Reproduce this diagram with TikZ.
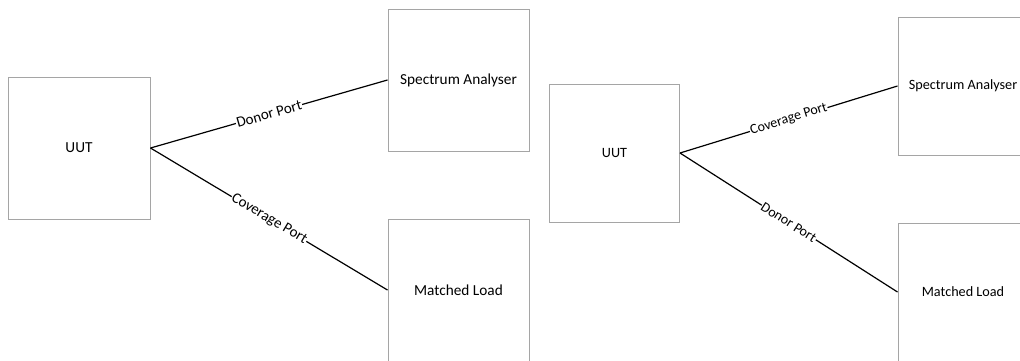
\documentclass[tikz,border=0pt]{standalone}
\usepackage{fontspec}
\setmainfont{Carlito}
\definecolor{boxgray}{HTML}{A5A5A5}
\begin{document}
\begin{tikzpicture}[x=1pt,y=-1pt,
  box/.style={draw=boxgray, line width=1pt, inner sep=0pt, align=center},
  boxA/.style={box, minimum width=142pt, minimum height=142pt, font=\fontsize{15.3}{18}\selectfont},
  boxB/.style={box, minimum width=130pt, minimum height=138pt, font=\fontsize{14.2}{17}\selectfont},
  link/.style={line width=1.2pt, black},
  portA/.style={midway, sloped, fill=white, inner sep=0.6pt, font=\fontsize{15}{18}\selectfont},
  portB/.style={midway, sloped, fill=white, inner sep=0.6pt, font=\fontsize{14}{17}\selectfont}]
\useasboundingbox (0,0) rectangle (1020,360);
\clip (0,0) rectangle (1020,360);

% first set-up: donor port to the analyser
\node[boxA] (uutA) at (79,148) {UUT};
\node[boxA, minimum width=141pt] (saA) at (458.5,80) {Spectrum Analyser};
\node[boxA, minimum width=141pt] (mlA) at (458.5,290) {Matched Load};
\draw[link] (uutA.east) -- node[portA] {Donor Port} (saA.west);
\draw[link] (uutA.east) -- node[portA] {Coverage Port} (mlA.west);

% second set-up: coverage port to the analyser
\node[boxB] (uutB) at (614.5,153) {UUT};
\node[boxB] (saB) at (963,86) {Spectrum Analyser};
\node[boxB] (mlB) at (963,292) {Matched Load};
\draw[link] (uutB.east) -- node[portB] {Coverage Port} (saB.west);
\draw[link] (uutB.east) -- node[portB] {Donor Port} (mlB.west);
\end{tikzpicture}
\end{document}
